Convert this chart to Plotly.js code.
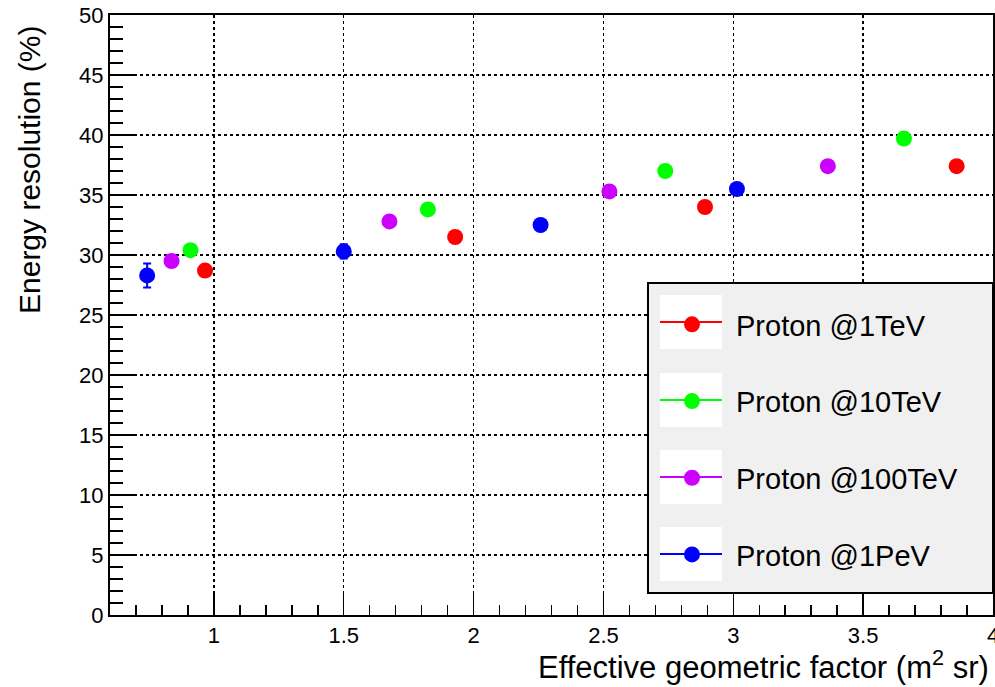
<!DOCTYPE html>
<html><head><meta charset="utf-8">
<script src="https://cdn.plot.ly/plotly-3.0.1.min.js"></script>
<style>html,body{margin:0;padding:0;background:#fff}#plot{width:995px;height:687px}</style>
</head><body><div id="plot"></div>
<script>
const seriesNames = ["Proton @1TeV", "Proton @10TeV", "Proton @100TeV", "Proton @1PeV"];
const colors = ["#ff0000", "#00ff00", "#cc00ff", "#0000ff"];
const x1TeV = [0.966, 1.929, 2.891, 3.860];
const y1TeV = [28.7, 31.5, 34.0, 37.4];
const x10TeV = [0.910, 1.824, 2.738, 3.657];
const y10TeV = [30.4, 33.8, 37.0, 39.7];
const x100TeV = [0.837, 1.676, 2.523, 3.364];
const y100TeV = [29.5, 32.8, 35.3, 37.4];
const x1PeV = [0.743, 1.500, 2.258, 3.014];
const y1PeV = [28.3, 30.3, 32.5, 35.5];
const err1PeV = [1.0, 0.6, 0.3, 0.3];

const xs = [x1TeV, x10TeV, x100TeV, x1PeV];
const ys = [y1TeV, y10TeV, y100TeV, y1PeV];
const errs = [null, null, null, err1PeV];

const FONT = "Liberation Sans, Arial, sans-serif";
const traces = xs.map((x, i) => {
  const t = {
    x: x, y: ys[i], type: "scatter", mode: "markers", name: seriesNames[i],
    legendgroup: "g" + i,
    marker: {color: colors[i], size: 16},
    cliponaxis: false
  };
  if (errs[i]) t.error_y = {type: "data", array: errs[i], visible: true, color: colors[i], thickness: 2, width: 4};
  return t;
});

// legend decoration (gray box, white symbol boxes, symbol lines)
const L = 110, T = 15, W = 883, H = 600;
const px = v => (v - L) / W, py = v => (T + H - v) / H;
const itemCentersPx = [322, 400, 477, 554];
const shapes = [{type: "rect", xref: "paper", yref: "paper", x0: px(648), x1: px(993), y0: py(593), y1: py(283),
  fillcolor: "#f0f0f0", line: {color: "#000", width: 2}, layer: "above"}];
itemCentersPx.forEach((c, i) => {
  shapes.push({type: "rect", xref: "paper", yref: "paper", x0: px(660), x1: px(722), y0: py(c + 27), y1: py(c - 27),
    fillcolor: "#ffffff", line: {width: 0}, layer: "above"});
  shapes.push({type: "line", xref: "paper", yref: "paper", x0: px(660), x1: px(722), y0: py(c), y1: py(c),
    line: {color: colors[i], width: 2}, layer: "above"});
});

const layout = {
  width: 995, height: 687,
  margin: {l: L, r: 995 - L - W, t: T, b: 687 - T - H},
  paper_bgcolor: "#fff", plot_bgcolor: "#fff",
  font: {family: FONT, color: "#000"},
  showlegend: true,
  legend: {x: px(648), xanchor: "left", y: py(299), yanchor: "top", bgcolor: "rgba(0,0,0,0)", borderwidth: 0,
    font: {size: 29, family: FONT, color: "#000"}, itemwidth: 78, traceorder: "grouped", tracegroupgap: 36,
    itemclick: false},
  xaxis: {range: [0.6, 4], dtick: 0.5, tick0: 0, showline: true, linecolor: "#000", linewidth: 2, mirror: true,
    ticks: "inside", ticklen: 21, tickwidth: 1.5, tickcolor: "#000",
    minor: {dtick: 0.1, ticks: "inside", ticklen: 10, tickwidth: 1.5, tickcolor: "#000", showgrid: false},
    showgrid: true, gridcolor: "#000", gridwidth: 1.5, griddash: "dot", zeroline: false,
    tickfont: {size: 22, family: FONT}, ticklabeloverflow: "allow"},
  yaxis: {range: [0, 50], dtick: 5, tick0: 0, showline: true, linecolor: "#000", linewidth: 2, mirror: true,
    ticks: "inside", ticklen: 27, tickwidth: 1.5, tickcolor: "#000",
    minor: {dtick: 1, ticks: "inside", ticklen: 13, tickwidth: 1.5, tickcolor: "#000", showgrid: false},
    showgrid: true, gridcolor: "#000", gridwidth: 1.5, griddash: "dot", zeroline: false,
    tickfont: {size: 22, family: FONT}},
  shapes: shapes,
  annotations: [
    {text: "Energy resolution (%)", xref: "paper", yref: "paper", x: px(30), y: py(170), textangle: -90,
     showarrow: false, font: {size: 30, family: FONT}, xanchor: "center", yanchor: "middle"},
    {text: "Effective geometric factor (m<sup>2</sup> sr)", xref: "paper", yref: "paper", x: px(991), y: py(665),
     showarrow: false, font: {size: 31, family: FONT}, xanchor: "right", yanchor: "middle"}
  ]
};
Plotly.newPlot("plot", traces, layout, {displayModeBar: false, staticPlot: true});
</script></body></html>
